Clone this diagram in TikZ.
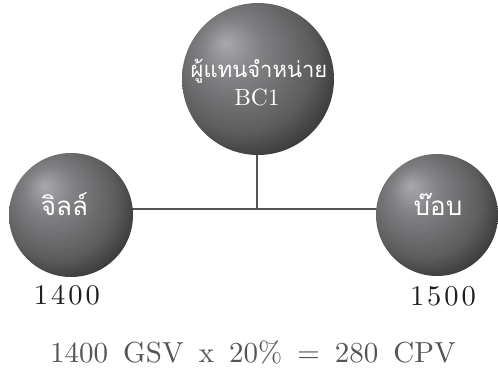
\documentclass[tikz,border=0pt]{standalone}
\usepackage{fontspec}
\newfontfamily\thai[Script=Thai]{Loma}
\newfontfamily\lmten[Extension=.otf]{lmroman10-regular}
\usetikzlibrary{backgrounds}
\definecolor{hl}{RGB}{168,168,173}
\definecolor{mA}{RGB}{128,128,131}
\definecolor{mB}{RGB}{92,92,93}
\definecolor{edg}{RGB}{50,50,50}
\definecolor{linec}{RGB}{85,85,85}
\definecolor{numc}{RGB}{30,30,30}
\definecolor{eqc}{RGB}{85,85,85}
\pgfdeclareradialshading{sphereshade}{\pgfpoint{-11bp}{12bp}}{color(0bp)=(hl); color(10bp)=(mA); color(24bp)=(mB); color(33bp)=(edg); color(50bp)=(edg)}
\newcommand{\ls}{\kern3pt\relax}
\newcommand{\widesp}{\spaceskip=15pt\relax}
\tikzset{
  sph/.style={circle, shade, shading=sphereshade, minimum size=#1, inner sep=0pt},
  conn/.style={draw=linec, line width=1.6pt},
  wt/.style={text=white, inner sep=0pt},
  num/.style={text=numc, inner sep=0pt, font=\lmten\fontsize{28.5}{30}\selectfont},
  eqs/.style={text=eqc, inner sep=0pt, font=\lmten\fontsize{29}{30}\selectfont}
}
\begin{document}
\begin{tikzpicture}[x=1pt,y=1pt]
\useasboundingbox (0,0) rectangle (498,369);
\node[sph=152pt] (top) at (258,290) {};
\node[sph=124pt] (left) at (71,154) {};
\node[sph=122pt] (right) at (437,154) {};
\coordinate (j) at (257,160);
\begin{scope}[on background layer]
\draw[conn] (top.center -| j) -- (j);
\draw[conn] (left.center |- j) -- (right.center |- j);
\end{scope}
\node[wt, anchor=base, font=\thai\fontsize{22}{26}\selectfont] (tTop) at (259,291) {ผู้แทนจำหน่าย};
\node[wt, anchor=base, font=\lmten\fontsize{23.5}{26}\selectfont] (tBC) at (257,263) {BC1};
\node[wt, anchor=base, font=\thai\fontsize{26}{30}\selectfont] (tL) at (64.5,153) {จิลล์};
\node[wt, anchor=base, font=\thai\fontsize{26}{30}\selectfont] (tR) at (438,153) {บ๊อบ};
\node[num, anchor=base] (n1) at (67,64) {1\ls4\ls0\ls0};
\node[num, anchor=base] (n2) at (443,63) {1\ls5\ls0\ls0};
\node[eqs, anchor=base west] (eqn) at (50,6) {\widesp 1400 GSV x 20\% = 280 CPV};
\end{tikzpicture}
\end{document}
